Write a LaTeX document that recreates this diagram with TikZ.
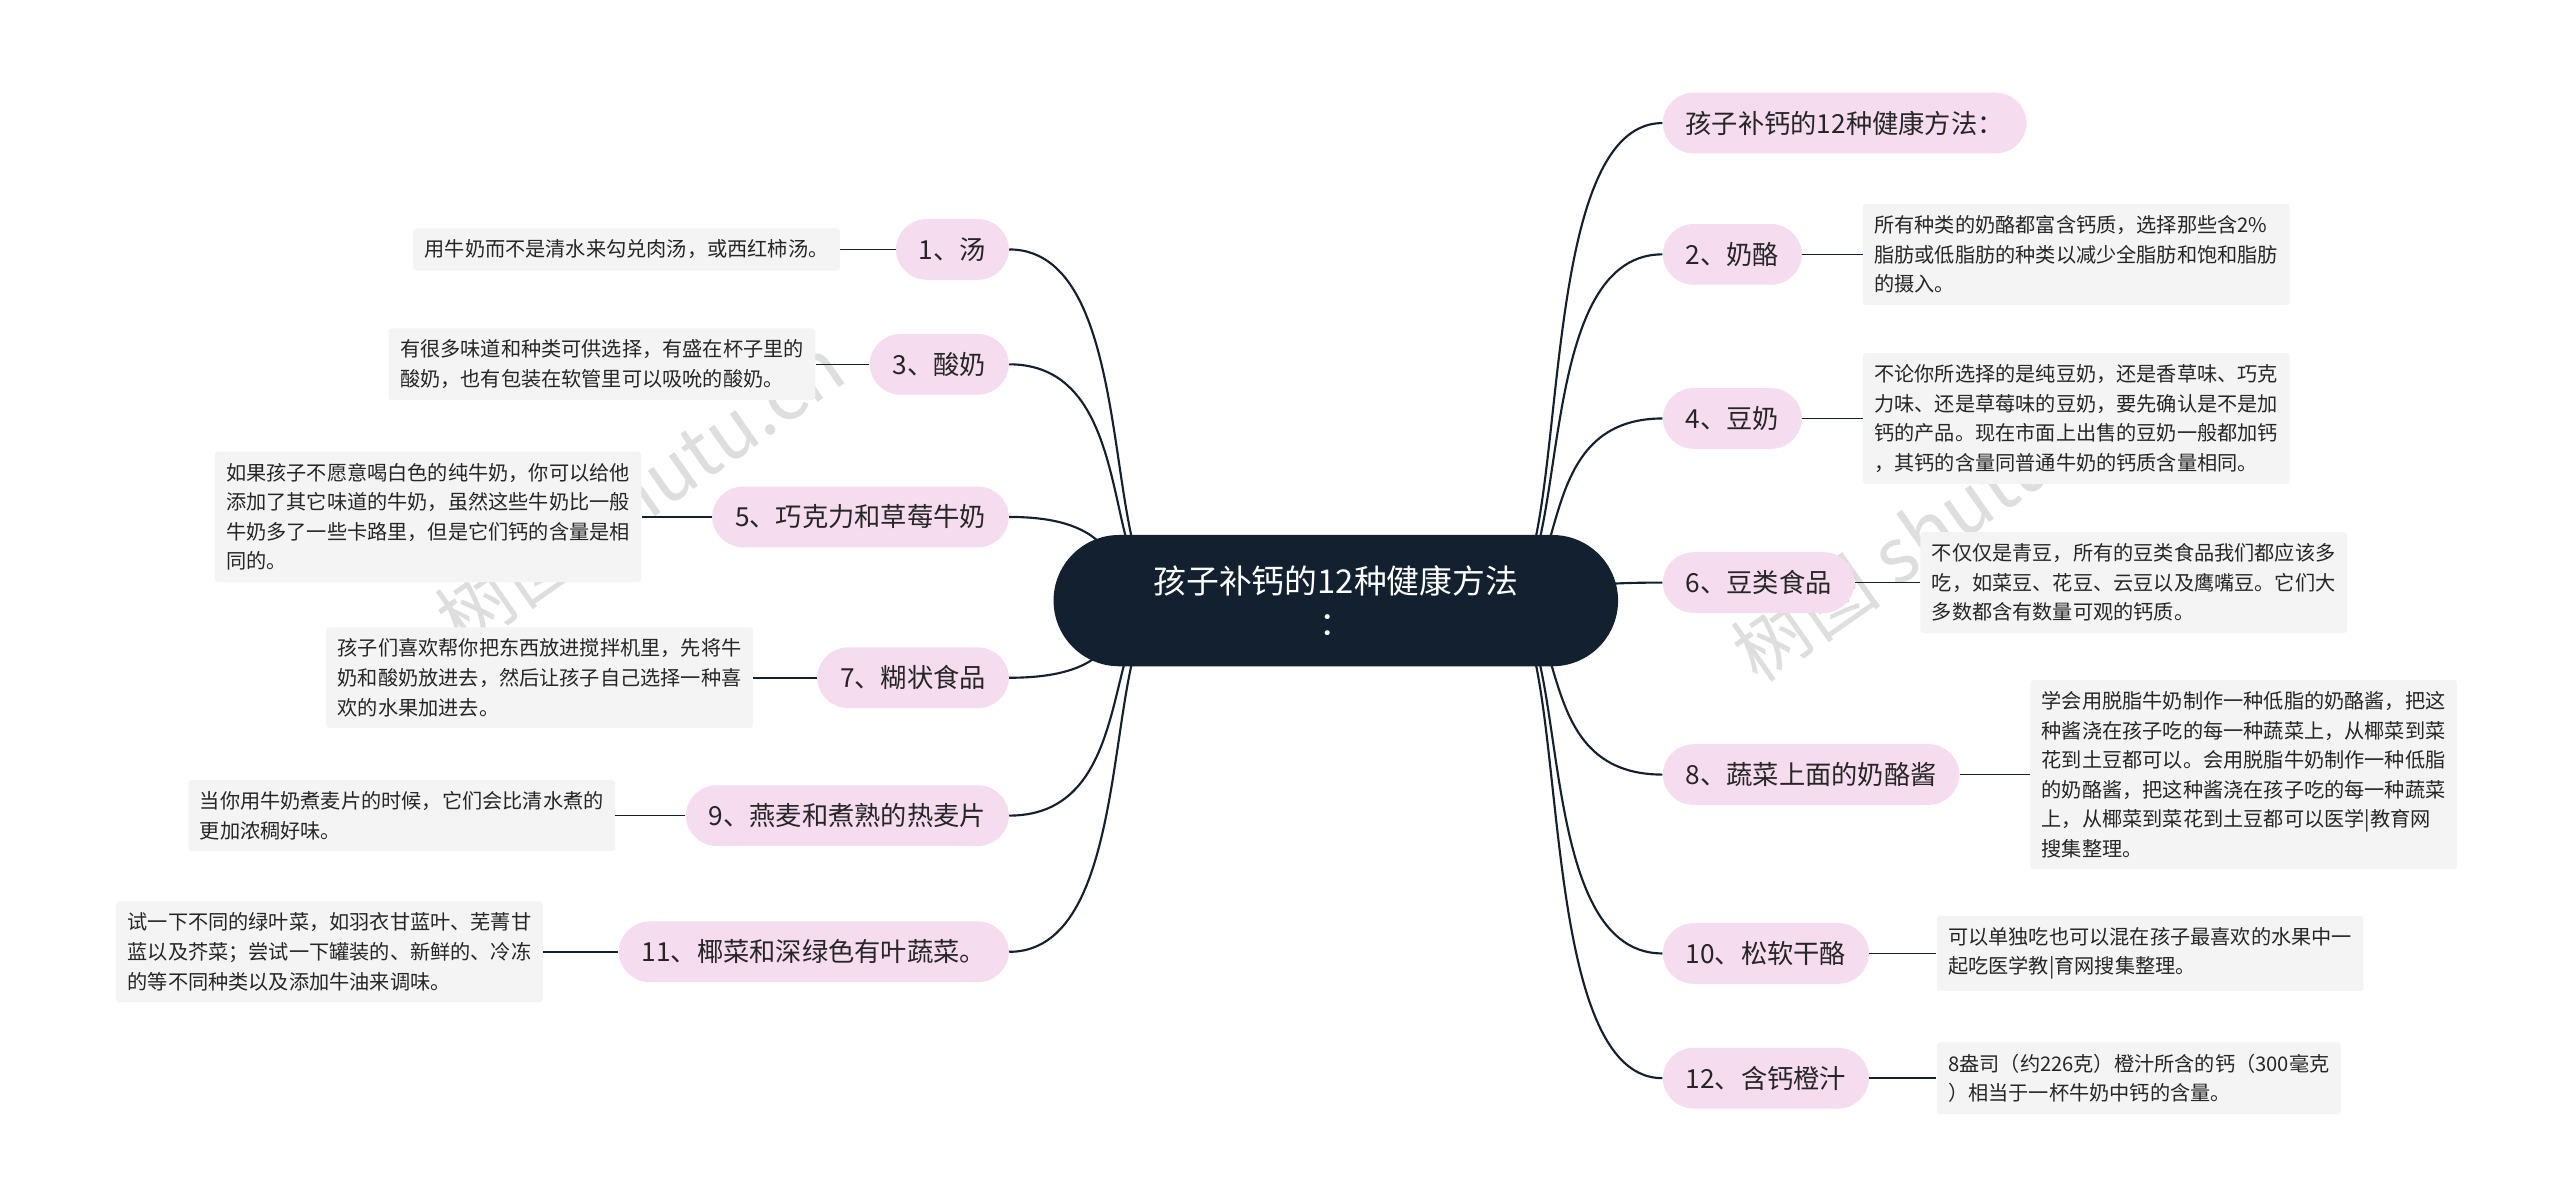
\documentclass[tikz,border=0pt]{standalone}
\usepackage{fontspec}
\setmainfont{Noto Sans CJK SC}
\begin{document}
\begin{tikzpicture}[x=1pt,y=-1pt,
  br/.style={fill=pinkc,rounded corners=19pt,minimum height=37pt,inner xsep=14pt,font=\fontsize{16}{18}\selectfont,text=black!85},
  det/.style={fill=grayc,rounded corners=2pt,inner sep=7pt,font=\fontsize{12.3}{18}\selectfont,align=left,text=black!85},
  con/.style={draw=darkc,line width=1.3pt},
  lk/.style={draw=darkc,line width=1pt},
  wm/.style={text=black!13,font=\fontsize{46}{50}\selectfont,rotate=35}]
\definecolor{pinkc}{HTML}{F5DCEF}
\definecolor{grayc}{HTML}{F4F4F4}
\definecolor{darkc}{HTML}{13202F}
\useasboundingbox[fill=white] (0,0) rectangle (1560,732);
\node[wm] (w1) at (390,300) {树图 shutu.cn};
\node[wm] (w2) at (1180,320) {树图 shutu.cn};
\coordinate (sr) at (914,366);
\coordinate (sl) at (714,366);
% right branches
\node[br,anchor=west] (r0) at (1013,75) {孩子补钙的12种健康方法：};
\node[br,anchor=west] (r2) at (1013,155) {2、奶酪};
\node[br,anchor=west] (r4) at (1013,255) {4、豆奶};
\node[br,anchor=west] (r6) at (1013,355) {6、豆类食品};
\node[br,anchor=west] (r8) at (1013,472) {8、蔬菜上面的奶酪酱};
\node[br,anchor=west] (r10) at (1013,581) {10、松软干酪};
\node[br,anchor=west] (r12) at (1013,657) {12、含钙橙汁};
% left branches
\node[br,anchor=east] (l1) at (615,152) {1、汤};
\node[br,anchor=east] (l3) at (615,222) {3、酸奶};
\node[br,anchor=east] (l5) at (615,315) {5、巧克力和草莓牛奶};
\node[br,anchor=east] (l7) at (615,413) {7、糊状食品};
\node[br,anchor=east] (l9) at (615,497) {9、燕麦和煮熟的热麦片};
\node[br,anchor=east] (l11) at (615,580) {11、椰菜和深绿色有叶蔬菜。};
% connectors
\foreach \n in {r0,r2,r4,r6,r8,r10,r12}{
  \draw[con] (sr) .. controls (960,366) and (930,0|-\n.west) .. (\n.west);}
\foreach \n in {l1,l3,l5,l7,l9,l11}{
  \draw[con] (sl) .. controls (668,366) and (698,0|-\n.east) .. (\n.east);}
% center
\node[fill=darkc,rounded corners=40pt,minimum width=344pt,minimum height=80pt,text=white,align=center,font=\fontsize{20}{26}\selectfont] (c) at (814,366) {孩子补钙的12种健康方法\\：};
% details right
\node[det,anchor=west] (d2) at (1135,155) {所有种类的奶酪都富含钙质，选择那些含2\%\\脂肪或低脂肪的种类以减少全脂肪和饱和脂肪\\的摄入。};
\node[det,anchor=west] (d4) at (1135,255) {不论你所选择的是纯豆奶，还是香草味、巧克\\力味、还是草莓味的豆奶，要先确认是不是加\\钙的产品。现在市面上出售的豆奶一般都加钙\\，其钙的含量同普通牛奶的钙质含量相同。};
\node[det,anchor=west] (d6) at (1170,355) {不仅仅是青豆，所有的豆类食品我们都应该多\\吃，如菜豆、花豆、云豆以及鹰嘴豆。它们大\\多数都含有数量可观的钙质。};
\node[det,anchor=west] (d8) at (1237,472) {学会用脱脂牛奶制作一种低脂的奶酪酱，把这\\种酱浇在孩子吃的每一种蔬菜上，从椰菜到菜\\花到土豆都可以。会用脱脂牛奶制作一种低脂\\的奶酪酱，把这种酱浇在孩子吃的每一种蔬菜\\上，从椰菜到菜花到土豆都可以医学|教育网\\搜集整理。};
\node[det,anchor=west] (d10) at (1180,581) {可以单独吃也可以混在孩子最喜欢的水果中一\\起吃医学教|育网搜集整理。};
\node[det,anchor=west] (d12) at (1180,657) {8盎司（约226克）橙汁所含的钙（300毫克\\）相当于一杯牛奶中钙的含量。};
% details left
\node[det,anchor=east] (d1) at (512,152) {用牛奶而不是清水来勾兑肉汤，或西红柿汤。};
\node[det,anchor=east] (d3) at (497,222) {有很多味道和种类可供选择，有盛在杯子里的\\酸奶，也有包装在软管里可以吸吮的酸奶。};
\node[det,anchor=east] (d5) at (391,315) {如果孩子不愿意喝白色的纯牛奶，你可以给他\\添加了其它味道的牛奶，虽然这些牛奶比一般\\牛奶多了一些卡路里，但是它们钙的含量是相\\同的。};
\node[det,anchor=east] (d7) at (459,413) {孩子们喜欢帮你把东西放进搅拌机里，先将牛\\奶和酸奶放进去，然后让孩子自己选择一种喜\\欢的水果加进去。};
\node[det,anchor=east] (d9) at (375,497) {当你用牛奶煮麦片的时候，它们会比清水煮的\\更加浓稠好味。};
\node[det,anchor=east] (d11) at (331,580) {试一下不同的绿叶菜，如羽衣甘蓝叶、芜菁甘\\蓝以及芥菜；尝试一下罐装的、新鲜的、冷冻\\的等不同种类以及添加牛油来调味。};
\foreach \a/\b in {r2/d2,r4/d4,r6/d6,r8/d8,r10/d10,r12/d12}{\draw[lk] (\a.east) -- (\b.west);}
\foreach \a/\b in {l1/d1,l3/d3,l5/d5,l7/d7,l9/d9,l11/d11}{\draw[lk] (\a.west) -- (\b.east);}
\end{tikzpicture}
\end{document}
